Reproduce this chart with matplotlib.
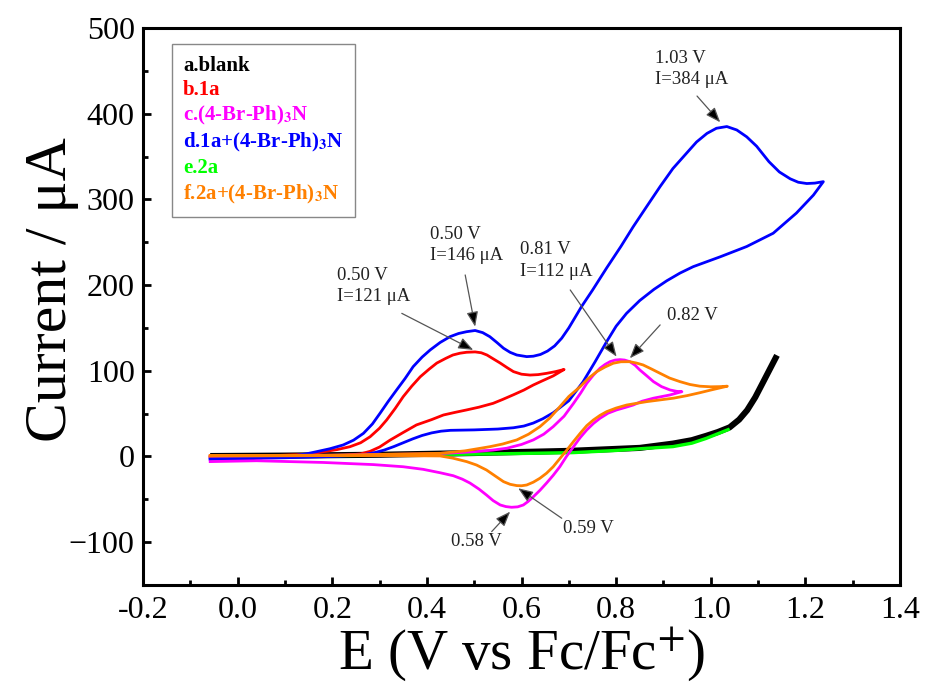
import matplotlib
matplotlib.use("Agg")
import matplotlib.pyplot as plt
from matplotlib.lines import Line2D
from matplotlib.ticker import MultipleLocator, FormatStrFormatter

plt.rcParams['font.family'] = ['Liberation Serif', 'DejaVu Serif']
plt.rcParams['mathtext.fontset'] = 'stix'

# ---------------- data (E in V vs Fc/Fc+, I in uA) ----------------
blank_E = [-0.058, 0.10, 0.30, 0.50, 0.70, 0.85, 0.92, 0.96, 0.99, 1.015, 1.04,
           1.06, 1.077, 1.094, 1.11, 1.125, 1.14]
blank_I = [0.5, 1.0, 2.0, 4.0, 6.5, 10.0, 15.0, 19.0, 24.0, 28.5, 34.0,
           43.0, 54.0, 69.0, 86.0, 102.0, 118.0]

e2a_E = [-0.058, 0.20, 0.40, 0.60, 0.71, 0.80, 0.85, 0.92, 0.96, 0.99, 1.015, 1.04]
e2a_I = [0.0, 1.0, 2.0, 3.5, 4.5, 7.0, 9.0, 11.5, 15.5, 21.0, 26.5, 32.0]

b1a_E = [-0.058, 0.05, 0.15, 0.181, 0.21, 0.2375, 0.26, 0.28, 0.30, 0.315, 0.333,
         0.35, 0.368, 0.386, 0.405, 0.421, 0.44, 0.455, 0.47, 0.484, 0.502, 0.515,
         0.527, 0.54, 0.555, 0.57, 0.583, 0.60, 0.618, 0.635, 0.653, 0.672, 0.69,
         0.667, 0.645, 0.625, 0.605, 0.583, 0.56, 0.54, 0.51, 0.484, 0.46, 0.435,
         0.41, 0.378, 0.35, 0.322, 0.30, 0.28, 0.26, 0.22, 0.10, -0.058]
b1a_I = [0.0, 0.5, 2.5, 5.6, 8.0, 11.4, 16.0, 23.0, 33.0, 42.6, 56.0,
         69.8, 82.0, 93.0, 102.0, 109.0, 114.5, 118.4, 120.5, 121.6, 122.0, 121.0,
         118.4, 114.0, 109.0, 103.5, 99.0, 96.0, 95.0, 95.5, 97.0, 99.0, 101.5,
         94.0, 88.5, 83.4, 77.5, 72.0, 66.5, 62.0, 57.5, 54.3, 51.5, 48.4,
         43.0, 36.8, 28.0, 19.0, 11.0, 6.0, 3.0, 1.0, 0.0, -1.0]

c_E = [-0.058, 0.20, 0.40, 0.45, 0.50, 0.54, 0.569, 0.60, 0.625, 0.647, 0.667, 0.69,
       0.71, 0.725, 0.738, 0.752, 0.766, 0.777, 0.787, 0.798, 0.808, 0.818, 0.829,
       0.84, 0.85, 0.865, 0.879, 0.896, 0.914, 0.928, 0.939,
       0.914, 0.879, 0.855, 0.836, 0.818, 0.801, 0.783, 0.766, 0.752, 0.738, 0.724,
       0.71, 0.695, 0.681, 0.667, 0.653, 0.639, 0.625, 0.614, 0.604, 0.592, 0.579,
       0.567, 0.555, 0.54, 0.526, 0.51, 0.491, 0.475, 0.456, 0.428, 0.392, 0.35,
       0.287, 0.181, 0.04, -0.058]
c_I = [0.5, 1.5, 3.0, 4.0, 5.5, 7.5, 9.6, 14.0, 19.3, 26.0, 34.8, 47.0,
       62.0, 74.0, 85.4, 95.0, 103.0, 107.5, 110.6, 112.5, 113.0, 112.5, 110.6,
       106.5, 101.0, 94.0, 87.3, 81.5, 77.6, 76.0, 75.6,
       71.8, 68.0, 64.5, 60.0, 57.0, 54.3, 50.5, 44.6, 38.5, 31.0, 22.0,
       11.4, 0.0, -12.0, -22.0, -31.0, -39.5, -47.0, -52.5, -56.6, -58.8, -59.3,
       -58.5, -56.6, -51.5, -45.0, -38.0, -31.0, -26.5, -22.5, -19.0, -15.0, -12.0,
       -9.5, -7.0, -5.0, -6.0]

d_E = [-0.058, 0.05, 0.12, 0.145, 0.167, 0.195, 0.223, 0.245, 0.266, 0.285, 0.301,
       0.318, 0.336, 0.354, 0.371, 0.39, 0.407, 0.428, 0.449, 0.467, 0.484, 0.502,
       0.518, 0.533, 0.548, 0.562, 0.576, 0.59, 0.611, 0.625, 0.64, 0.655, 0.67,
       0.685, 0.70, 0.727, 0.75, 0.78, 0.81, 0.836, 0.865, 0.893, 0.92, 0.949,
       0.97, 0.992, 1.012, 1.034, 1.055, 1.076, 1.097, 1.123, 1.145, 1.168, 1.185,
       1.203, 1.22, 1.238,
       1.217, 1.181, 1.132, 1.076, 1.02, 0.963, 0.935, 0.907, 0.88, 0.85, 0.822,
       0.80, 0.78, 0.755, 0.73, 0.70, 0.667, 0.645, 0.625, 0.605, 0.583, 0.55,
       0.50, 0.45, 0.43, 0.41, 0.39, 0.37, 0.35, 0.33, 0.31, 0.29, 0.27, 0.24,
       0.20, 0.10, -0.058]
d_I = [-3.0, -1.5, 1.0, 3.0, 5.6, 9.0, 13.4, 19.0, 27.0, 38.0, 50.4,
       64.0, 77.6, 91.0, 104.8, 116.0, 124.3, 133.0, 139.8, 143.5, 145.6, 147.0,
       144.5, 139.8, 133.0, 126.3, 121.5, 118.4, 116.5, 117.0, 119.0, 123.0, 129.0,
       138.0, 150.0, 175.0, 194.0, 220.0, 245.0, 268.0, 292.0, 315.0, 336.0, 354.0,
       367.0, 377.0, 383.0, 385.0, 381.0, 373.0, 362.0, 344.0, 332.0, 324.0, 320.0,
       318.5, 319.0, 320.7,
       305.0, 284.0, 260.5, 245.0, 233.0, 221.5, 214.0, 205.0, 195.0, 182.0, 167.0,
       152.0, 134.0, 110.0, 87.0, 65.0, 51.0, 44.0, 39.0, 35.5, 33.5, 32.0,
       31.0, 30.5, 29.5, 27.5, 24.5, 20.5, 16.0, 11.5, 7.5, 4.5, 2.5, 1.0,
       0.0, -1.5, -3.0]

f_E = [-0.058, 0.20, 0.428, 0.48, 0.533, 0.56, 0.59, 0.615, 0.639, 0.66, 0.681,
       0.70, 0.724, 0.74, 0.759, 0.777, 0.794, 0.81, 0.829, 0.843, 0.857, 0.875,
       0.893, 0.913, 0.935, 0.956, 0.977, 1.00, 1.02, 1.035,
       1.00, 0.977, 0.95, 0.921, 0.893, 0.865, 0.843, 0.822, 0.80, 0.78, 0.766,
       0.752, 0.738, 0.724, 0.71, 0.696, 0.681, 0.667, 0.653, 0.639, 0.625, 0.611,
       0.60, 0.59, 0.576, 0.562, 0.545, 0.526, 0.505, 0.484, 0.455, 0.428, 0.30,
       0.20, -0.058]
f_I = [1.0, 1.5, 3.7, 6.5, 11.4, 14.5, 19.3, 26.0, 34.8, 45.0, 58.0,
       70.0, 81.4, 90.5, 99.0, 104.5, 108.8, 110.5, 110.6, 109.0, 106.8, 102.0,
       97.0, 91.5, 87.3, 84.0, 82.0, 81.3, 81.5, 82.0,
       77.5, 74.4, 71.0, 68.0, 66.0, 64.0, 62.0, 60.0, 56.5, 52.3, 48.0,
       42.6, 36.0, 27.0, 17.5, 7.6, -2.5, -12.0, -19.5, -25.4, -30.0, -33.3,
       -34.2, -34.0, -32.5, -29.4, -23.0, -15.8, -10.0, -6.0, -2.0, 0.6, 1.0,
       1.0, 0.5]

labels = ['a.blank', 'b.1a', r'c.(4-Br-Ph)$_\mathbf{3}$N', r'd.1a+(4-Br-Ph)$_\mathbf{3}$N',
          'e.2a', r'f.2a+(4-Br-Ph)$_\mathbf{3}$N']
colors = ['#000000', '#FF0000', '#FF00FF', '#0000FF', '#00FF00', '#FF8000']

x_ticks = [-0.2, 0.0, 0.2, 0.4, 0.6, 0.8, 1.0, 1.2, 1.4]
y_ticks = [-100, 0, 100, 200, 300, 400, 500]

# annotations: (text, text_E, text_I, tail_E, tail_I, tip_E, tip_I)
annots = [
    ('1.03 V\nI=384 \u03bcA', 0.882, 452, 0.971, 420.6, 1.020, 390),
    ('0.50 V\nI=146 \u03bcA', 0.407, 247, 0.481, 211.8, 0.502, 151.5),
    ('0.50 V\nI=121 \u03bcA', 0.209, 199, 0.347, 167, 0.498, 124.3),
    ('0.81 V\nI=112 \u03bcA', 0.597, 229, 0.703, 194.3, 0.801, 116.5),
    ('0.82 V', 0.907, 165, 0.893, 153.5, 0.829, 114.6),
    ('0.58 V', 0.452, -99.4, 0.537, -87.7, 0.576, -64.4),
    ('0.59 V', 0.688, -83.8, 0.685, -72.1, 0.593, -37.1),
]

# ---------------- figure ----------------
fig = plt.figure(figsize=(9.3, 6.88), dpi=100)
ax = fig.add_axes([143 / 930, 1 - 585 / 688, 757 / 930, 557 / 688])

lw = 2.0
ax.plot(blank_E, blank_I, color=colors[0], lw=4.4, solid_capstyle='butt', zorder=2)
ax.plot(e2a_E, e2a_I, color=colors[4], lw=2.4, solid_capstyle='butt', zorder=3)
ax.plot(b1a_E, b1a_I, color=colors[1], lw=lw, zorder=4)
ax.plot(d_E, d_I, color=colors[3], lw=lw, zorder=5)
ax.plot(c_E, c_I, color=colors[2], lw=lw, zorder=6)
ax.plot(f_E, f_I, color=colors[5], lw=lw, zorder=7)

ax.set_xlim(-0.2, 1.4)
ax.set_ylim(-150, 500)
ax.set_xticks(x_ticks)
ax.set_yticks(y_ticks)
ax.xaxis.set_minor_locator(MultipleLocator(0.1))
ax.yaxis.set_minor_locator(MultipleLocator(50))
ax.xaxis.set_major_formatter(FormatStrFormatter('%.1f'))
ax.tick_params(which='major', direction='in', length=6, width=2, labelsize=23,
               top=False, right=False)
ax.tick_params(which='minor', direction='in', length=3.5, width=2, top=False, right=False)
ax.tick_params(axis='x', which='major', pad=8)
ax.tick_params(axis='y', which='major', pad=6)
for s in ax.spines.values():
    s.set_linewidth(2.2)

ax.set_xlabel(r'E (V vs Fc/Fc$^{+}$)', fontsize=41)
ax.set_ylabel('Current / \u03bcA', fontsize=43)
ax.xaxis.set_label_coords(0.5, -0.072)
ax.yaxis.set_label_coords(-0.085, 0.53)

for txt, tx, ty, ax0, ay0, ax1, ay1 in annots:
    ax.text(tx, ty, txt, fontsize=13.5, color='#222222', ha='left', va='center',
            linespacing=1.35, zorder=10)
    ax.annotate('', xy=(ax1, ay1), xytext=(ax0, ay0),
                arrowprops=dict(arrowstyle='-|>,head_length=0.9,head_width=0.35',
                                ec='#555555', fc='black', lw=0.9,
                                shrinkA=0, shrinkB=0), zorder=10)

handles = [Line2D([], [], color=c) for c in colors]
leg = ax.legend(handles, labels, loc='upper left', bbox_to_anchor=(0.038, 0.971),
                borderaxespad=0, handlelength=0, handletextpad=0, labelcolor=colors,
                prop={'family': 'Liberation Serif', 'weight': 'bold', 'size': 15},
                frameon=True, fancybox=False, edgecolor='#888888', framealpha=1,
                labelspacing=0.2, borderpad=0.55)
leg.get_frame().set_linewidth(1.0)
for h in leg.legend_handles:
    h.set_visible(False)

fig.savefig('out.png', dpi=100)
